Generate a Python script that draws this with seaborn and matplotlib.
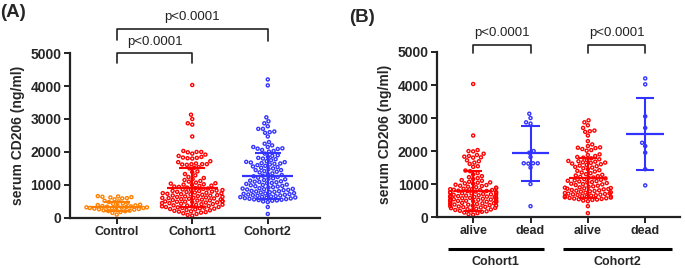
import numpy as np
import pandas as pd
import matplotlib
matplotlib.use("Agg")
import matplotlib.pyplot as plt
import seaborn as sns

# ---------------- data ----------------
control = [660, 650, 640, 630, 620, 600, 590, 560, 520, 500, 480, 460, 440, 420, 400,
           390, 380, 370, 360, 350, 340, 330, 320, 320, 310, 300, 300, 290, 280, 270,
           260, 250, 240, 230, 220, 210, 200, 180, 150, 100]

c1_alive = [4030, 2470,
            2030, 2000, 1990, 1920, 1880, 1850, 1830, 1810, 1800, 1720, 1690, 1650, 1610,
            1540, 1520, 1410, 1390, 1330, 1290,
            1240, 1210, 1180, 1150, 1120, 1100, 1070, 1050, 1040, 1020, 1010, 980, 970,
            950, 940, 920, 905, 890, 880, 860, 850, 845, 830, 820, 815, 800, 790, 785,
            770, 760, 750, 745, 730, 720, 715, 700, 690, 680, 675, 660, 650, 640, 635,
            620, 610, 605, 600, 590, 580, 570, 560, 555, 540, 530, 525, 510, 505, 500,
            495, 490, 480, 470, 465, 450, 445, 430, 420, 415, 400, 395, 380, 375, 360,
            350, 345, 330, 320, 310, 300, 290, 280, 270, 255, 240, 230, 215, 200, 190,
            175, 160, 140, 120, 90, 70]
c1_dead = [3130, 3000, 2870, 2830, 2000, 1950, 1820, 1630, 1630, 1620, 1630, 1500, 1000, 330]

c2_alive = [2930, 2870, 2780, 2700, 2620, 2600, 2580, 2470, 2300, 2200, 2150, 2110,
            2100, 2090, 2060, 2030, 2010,
            1900, 1880, 1850, 1820, 1800, 1780, 1750, 1720, 1700, 1690, 1680, 1660,
            1650, 1640, 1620, 1600, 1580, 1560, 1540, 1520, 1500,
            1480, 1450, 1420, 1400, 1380, 1350, 1330, 1300, 1280, 1260, 1240, 1220,
            1200, 1190, 1170, 1150, 1130, 1110, 1100, 1090,
            1080, 1060, 1050, 1030, 1010, 1000, 990, 970, 950, 930, 920, 900, 890,
            880, 870, 860, 850, 840, 820, 810, 800,
            790, 780, 770, 750, 740, 730, 720, 710, 700, 690, 680, 670, 660, 650,
            640, 630, 620, 610, 600, 590, 580,
            570, 560, 550, 540, 530, 520, 500, 480, 330, 120]
c2_dead = [4200, 4020, 3050, 2700, 2250, 2150, 1950, 1450, 960]

cats_a = ["Control", "Cohort1", "Cohort2"]
mean_a = [340, 920, 1280]
sd_a = [140, 600, 700]

cats_b = ["c1 alive", "c1 dead", "c2 alive", "c2 dead"]
ticklabels_b = ["alive", "dead", "alive", "dead"]
mean_b = [790, 1930, 1180, 2520]
sd_b = [610, 830, 600, 1090]
cohort_labels = ["Cohort1", "Cohort2"]

p_text = "p<0.0001"
ylabel = "serum CD206 (ng/ml)"
yticks = [0, 1000, 2000, 3000, 4000, 5000]

# ---------------- styling ----------------
orange = "#FF8000"
red = "#FF0000"
blue = "#3333FF"
colors_a = [orange, red, blue]
colors_b = [red, blue, red, blue]

sns.set_theme(style="ticks")
plt.rcParams["font.family"] = ["Liberation Sans", "DejaVu Sans"]

fig = plt.figure(figsize=(6.85, 2.68), dpi=100)
axA = fig.add_axes([0.102, 0.187, 0.365, 0.615])
axB = fig.add_axes([0.638, 0.190, 0.355, 0.616])

dfA = pd.DataFrame({
    "group": ["Control"] * len(control) + ["Cohort1"] * (len(c1_alive) + len(c1_dead))
             + ["Cohort2"] * (len(c2_alive) + len(c2_dead)),
    "value": control + c1_alive + c1_dead + c2_alive + c2_dead,
})
dfB = pd.DataFrame({
    "group": ["c1 alive"] * len(c1_alive) + ["c1 dead"] * len(c1_dead)
             + ["c2 alive"] * len(c2_alive) + ["c2 dead"] * len(c2_dead),
    "value": c1_alive + c1_dead + c2_alive + c2_dead,
})

MS = 2.2
LW = 1.0

def draw(ax, df, cats, colors, means, sds, mhalf, chalf):
    sns.swarmplot(data=df, x="group", y="value", hue="group", order=cats,
                  hue_order=cats, palette=dict(zip(cats, colors)), size=MS,
                  linewidth=LW, legend=False, ax=ax, zorder=2, warn_thresh=1)
    for coll in ax.collections:
        fc = coll.get_facecolors()
        coll.set_edgecolors(fc)
        coll.set_facecolors("none")
        coll.set_linewidths(LW)
        coll.set_clip_on(False)
    for i, (m, s, c) in enumerate(zip(means, sds, colors)):
        ax.hlines(m, i - mhalf, i + mhalf, color=c, lw=1.6, zorder=4)
        ax.vlines(i, max(m - s, 0), m + s, color=c, lw=1.5, zorder=4)
        ax.hlines([m + s], i - chalf, i + chalf, color=c, lw=1.5, zorder=4)
        if m - s > 0:
            ax.hlines([m - s], i - chalf, i + chalf, color=c, lw=1.5, zorder=4)
    ax.set_ylim(0, 5000)
    ax.set_yticks(yticks)
    ax.set_yticklabels([str(t) for t in yticks], fontsize=10, fontweight="bold")
    ax.set_xlabel("")
    ax.set_ylabel(ylabel, fontsize=10, fontweight="bold", labelpad=4)
    for sp in ["top", "right"]:
        ax.spines[sp].set_visible(False)
    for sp in ["left", "bottom"]:
        ax.spines[sp].set_linewidth(1.6)
        ax.spines[sp].set_color("#222222")
    ax.tick_params(axis="both", width=1.4, length=4, color="#222222", pad=2)

def bracket(ax, x0, x1, ytop, yleg0, yleg1, ytext):
    ax.plot([x0, x0, x1, x1], [yleg0, ytop, ytop, yleg1], color="#222222",
            lw=1.2, clip_on=False)
    ax.text((x0 + x1) / 2, ytext, p_text, ha="center", va="center",
            fontsize=9.5, color="#222222", clip_on=False)

# Panel A
draw(axA, dfA, cats_a, colors_a, mean_a, sd_a, 0.34, 0.17)
axA.set_xlim(-0.62, 2.69)
axA.set_xticks(range(len(cats_a)))
axA.set_xticklabels(cats_a, fontsize=9, fontweight="bold")
bracket(axA, 0, 1, 5000, 4690, 4690, 5330)
bracket(axA, 0, 2, 5720, 5390, 5360, 6090)

# Panel B
draw(axB, dfB, cats_b, colors_b, mean_b, sd_b, 0.33, 0.16)
axB.set_xlim(-0.63, 3.61)
axB.set_xticks(range(len(cats_b)))
axB.set_xticklabels(ticklabels_b, fontsize=9, fontweight="bold")
bracket(axB, 0, 1, 5210, 4970, 4970, 5575)
bracket(axB, 2, 3, 5210, 4970, 4970, 5575)

trans = axB.get_xaxis_transform()
spans = [(-0.44, 1.23), (1.56, 3.47)]
for (a, b), lab in zip(spans, cohort_labels):
    axB.plot([a, b], [-0.194, -0.194], color="black", lw=2.2, transform=trans,
             clip_on=False, solid_capstyle="butt")
    axB.text((a + b) / 2, -0.27, lab, transform=trans, ha="center", va="center",
             fontsize=9, fontweight="bold")

fig.text(0.0, 0.985, "(A)", fontsize=13.5, fontweight="bold", va="top", ha="left")
fig.text(0.510, 0.965, "(B)", fontsize=13.5, fontweight="bold", va="top", ha="left")

fig.savefig("out.png", dpi=100)
